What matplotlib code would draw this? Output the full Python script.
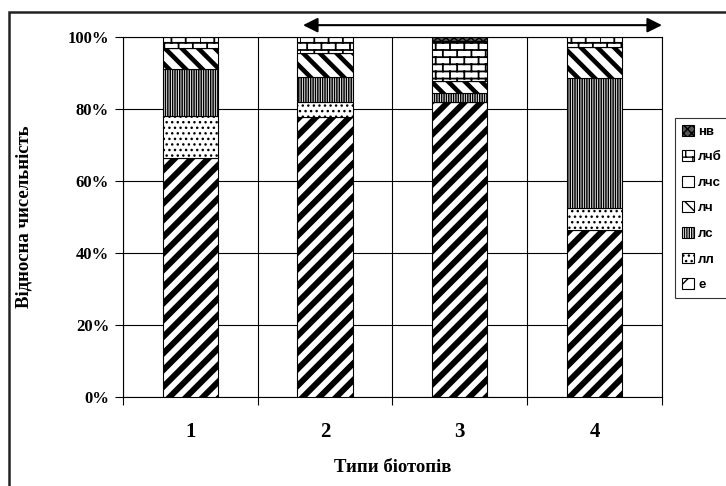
import warnings
import numpy as np
import matplotlib
matplotlib.use("Agg")
import matplotlib.pyplot as plt
import matplotlib.hatch as mhatch
from matplotlib.path import Path
from matplotlib.patches import Rectangle

# data (percent of each group per biotope type)
biotopes = ["1", "2", "3", "4"]
groups = ["е", "лл", "лс", "лч", "лчс", "лчб", "нв"]
val_e = [66.4, 77.9, 82.0, 46.4]
val_ll = [11.6, 4.1, 0.0, 6.0]
val_ls = [13.0, 6.8, 2.5, 36.1]
val_lch = [6.0, 6.7, 3.4, 8.6]
val_lchs = [0.0, 0.0, 0.0, 0.0]
val_lchb = [3.0, 4.5, 11.1, 2.9]
val_nv = [0.0, 0.0, 1.0, 0.0]
yticks = [0, 20, 40, 60, 80, 100]


class BrickHatch(mhatch.HatchPatternBase):
    """brick wall hatch, used by the 'b' character"""

    def __init__(self, hatch, density):
        n = hatch.count('b')
        self.rows = 14 * n
        self.bricks = 7 * n
        self.num_vertices = self.rows * 2 + self.rows * self.bricks * 2

    def set_vertices_and_codes(self, vertices, codes):
        h = 1.0 / self.rows
        k = 0
        for r in range(self.rows):
            y0 = r * h
            vertices[k] = (0.0, y0)
            vertices[k + 1] = (1.0, y0)
            k += 2
            off = 0.5 / self.bricks if r % 2 else 0.0
            for j in range(self.bricks):
                x = j / self.bricks + off
                vertices[k] = (x, y0)
                vertices[k + 1] = (x, y0 + h)
                k += 2
        codes[0::2] = Path.MOVETO
        codes[1::2] = Path.LINETO


mhatch._hatch_types.append(BrickHatch)
warnings.filterwarnings("ignore")

serif = ["Liberation Serif", "DejaVu Serif"]
sans = ["Liberation Sans", "DejaVu Sans"]

fig = plt.figure(figsize=(7.26, 4.86), dpi=100)
ax = fig.add_axes([0.1694, 0.1831, 0.7424, 0.7407])

x = np.arange(len(biotopes))
series = [val_e, val_ll, val_ls, val_lch, val_lchs, val_lchb, val_nv]
styles = [
    dict(facecolor="white", hatch="//", hlw=4.3),
    dict(facecolor="white", hatch="...", hlw=1.0),
    dict(facecolor="white", hatch="|||||||", hlw=1.1),
    dict(facecolor="white", hatch="\\\\", hlw=3.3),
    dict(facecolor="white", hatch=None, hlw=1.0),
    dict(facecolor="white", hatch="b", hlw=1.3),
    dict(facecolor="#555555", hatch="xxxx", hlw=1.0),
]

bottom = np.zeros(len(biotopes))
handles = []
for name, vals, st in zip(groups, series, styles):
    with plt.rc_context({"hatch.linewidth": st["hlw"]}):
        bars = ax.bar(x, vals, 0.41, bottom=bottom, color=st["facecolor"],
                      edgecolor="black", linewidth=0.8, hatch=st["hatch"],
                      label=name, zorder=3)
    for b in bars:
        if hasattr(b, "set_hatch_linewidth"):
            b.set_hatch_linewidth(st["hlw"])
    handles.append(bars)
    bottom += np.array(vals)

ax.set_xlim(-0.5, len(biotopes) - 0.5)
ax.set_ylim(0, 100)

ax.set_yticks(yticks)
ax.set_yticklabels([f"{t}%" for t in yticks], fontsize=12, fontweight="bold", family=serif)
ax.tick_params(axis="y", length=6, width=0.8, pad=4, direction="out")

ax.set_xticks(np.arange(len(biotopes) + 1) - 0.5)
ax.set_xticklabels([])
ax.tick_params(axis="x", which="major", length=6, width=0.8, direction="out")
ax.set_xticks(x, minor=True)
ax.set_xticklabels(biotopes, minor=True, fontsize=15, fontweight="bold", family=serif)
ax.tick_params(axis="x", which="minor", length=0, pad=18)

ax.grid(axis="y", color="black", linewidth=0.8, zorder=0)
ax.grid(axis="x", which="major", color="black", linewidth=0.8, zorder=0)
for s in ax.spines.values():
    s.set_linewidth(0.8)

ax.set_ylabel("Відносна чисельність", fontsize=13.5, fontweight="bold", family=serif)
ax.yaxis.set_label_coords(-0.167, 0.5)
ax.set_xlabel("Типи біотопів", fontsize=13.5, fontweight="bold", family=serif)
ax.xaxis.set_label_coords(0.5, -0.172)

# double arrow over biotopes 2-4
ax.annotate("", xy=(1.0, 1.033), xytext=(0.334, 1.033), xycoords="axes fraction",
            annotation_clip=False,
            arrowprops=dict(arrowstyle="<|-|>", lw=1.5, color="black",
                            mutation_scale=22, shrinkA=0, shrinkB=0))

leg = fig.legend(handles[::-1], groups[::-1], loc="upper left",
                 bbox_to_anchor=(0.9298, 0.757), frameon=True, fancybox=False,
                 edgecolor="black", handlelength=0.9, handleheight=0.9,
                 handletextpad=0.35, labelspacing=0.95, borderpad=0.5,
                 borderaxespad=0, prop=dict(family=sans, weight="bold", size=9.5))
leg.get_frame().set_linewidth(0.8)

# outer chart border (runs off the right and bottom edges)
fig.patches.append(Rectangle((8.5 / 726, -0.5), 2.0, 0.5 + 1 - 12 / 486,
                             transform=fig.transFigure, fill=False,
                             edgecolor="#222222", linewidth=1.8, clip_on=False))

fig.savefig("out.png", dpi=100)
